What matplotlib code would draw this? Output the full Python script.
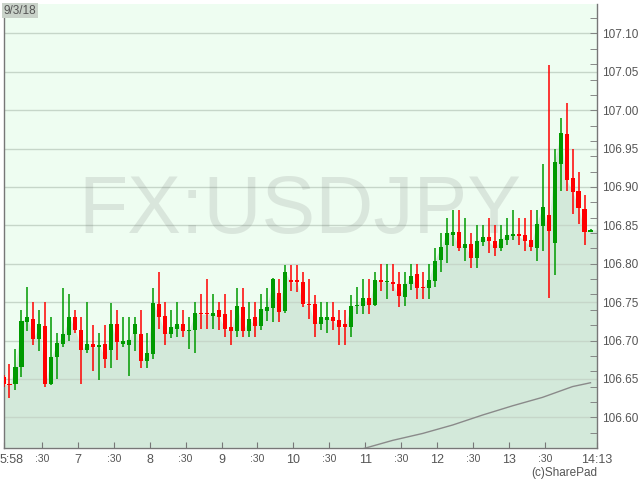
import matplotlib.pyplot as plt
import matplotlib.transforms as mtransforms
import numpy as np

plt.rcParams['font.family'] = ['Liberation Sans', 'DejaVu Sans']

# USDJPY 5 minute candles on 9/3/18, first candle at 5:58, last bar at 14:13
start_min = 5 * 60 + 58
end_min = 14 * 60 + 13
bar_minutes = 5

opens = [106.652, 106.643, 106.643, 106.665, 106.724, 106.728, 106.702, 106.719, 106.643, 106.679,
         106.696, 106.707, 106.730, 106.714, 106.688, 106.696, 106.691, 106.696, 106.688, 106.721,
         106.696, 106.694, 106.709, 106.709, 106.673, 106.683, 106.748, 106.732, 106.708, 106.715,
         106.722, 106.713, 106.714, 106.736, 106.735, 106.732, 106.740, 106.734, 106.718, 106.712,
         106.744, 106.713, 106.730, 106.719, 106.739, 106.743, 106.762, 106.739, 106.779, 106.779,
         106.776, 106.748, 106.747, 106.721, 106.727, 106.731, 106.727, 106.721, 106.717, 106.745,
         106.745, 106.756, 106.746, 106.779, 106.776, 106.776, 106.774, 106.757, 106.773, 106.786,
         106.769, 106.769, 106.778, 106.805, 106.824, 106.838, 106.842, 106.821, 106.826, 106.808,
         106.828, 106.835, 106.829, 106.821, 106.831, 106.836, 106.839, 106.838, 106.831, 106.821,
         106.849, 106.864, 106.827, 106.930, 106.969, 106.912, 106.895, 106.871, 106.842]
highs = [106.655, 106.669, 106.689, 106.740, 106.770, 106.750, 106.740, 106.750, 106.730, 106.710,
         106.769, 106.760, 106.740, 106.730, 106.750, 106.720, 106.710, 106.720, 106.749, 106.740,
         106.730, 106.730, 106.730, 106.740, 106.710, 106.769, 106.789, 106.750, 106.740, 106.750,
         106.740, 106.730, 106.750, 106.760, 106.780, 106.760, 106.750, 106.760, 106.740, 106.769,
         106.769, 106.750, 106.750, 106.760, 106.769, 106.781, 106.780, 106.799, 106.799, 106.799,
         106.789, 106.780, 106.759, 106.750, 106.750, 106.750, 106.740, 106.740, 106.759, 106.770,
         106.780, 106.780, 106.789, 106.800, 106.800, 106.800, 106.789, 106.789, 106.800, 106.800,
         106.789, 106.800, 106.820, 106.840, 106.859, 106.870, 106.870, 106.859, 106.840, 106.851,
         106.851, 106.859, 106.851, 106.851, 106.859, 106.870, 106.859, 106.859, 106.870, 106.870,
         106.930, 107.059, 106.949, 106.990, 107.010, 106.949, 106.920, 106.890, 106.845]
lows = [106.640, 106.625, 106.635, 106.653, 106.712, 106.694, 106.687, 106.640, 106.642, 106.650,
        106.691, 106.700, 106.710, 106.643, 106.684, 106.660, 106.649, 106.664, 106.664, 106.675,
        106.692, 106.654, 106.686, 106.664, 106.664, 106.676, 106.715, 106.694, 106.703, 106.705,
        106.705, 106.689, 106.684, 106.715, 106.715, 106.715, 106.714, 106.705, 106.694, 106.705,
        106.705, 106.705, 106.705, 106.714, 106.725, 106.724, 106.724, 106.736, 106.764, 106.763,
        106.744, 106.728, 106.705, 106.714, 106.710, 106.714, 106.694, 106.694, 106.705, 106.735,
        106.735, 106.735, 106.745, 106.765, 106.754, 106.765, 106.744, 106.745, 106.766, 106.754,
        106.754, 106.754, 106.770, 106.789, 106.801, 106.823, 106.816, 106.804, 106.794, 106.794,
        106.823, 106.814, 106.810, 106.816, 106.825, 106.831, 106.825, 106.816, 106.816, 106.804,
        106.816, 106.755, 106.785, 106.895, 106.895, 106.865, 106.852, 106.825, 106.842]
closes = [106.643, 106.642, 106.666, 106.726, 106.730, 106.702, 106.721, 106.643, 106.679, 106.697,
          106.708, 106.730, 106.714, 106.688, 106.696, 106.691, 106.694, 106.676, 106.721, 106.698,
          106.700, 106.701, 106.721, 106.673, 106.684, 106.749, 106.731, 106.708, 106.717, 106.722,
          106.713, 106.714, 106.736, 106.734, 106.734, 106.736, 106.730, 106.715, 106.713, 106.745,
          106.713, 106.728, 106.719, 106.741, 106.744, 106.780, 106.737, 106.789, 106.776, 106.776,
          106.747, 106.746, 106.721, 106.730, 106.731, 106.726, 106.718, 106.717, 106.745, 106.746,
          106.756, 106.746, 106.779, 106.776, 106.777, 106.773, 106.758, 106.773, 106.784, 106.769,
          106.768, 106.779, 106.804, 106.822, 106.840, 106.842, 106.821, 106.826, 106.808, 106.829,
          106.835, 106.829, 106.821, 106.832, 106.838, 106.839, 106.836, 106.830, 106.822, 106.852,
          106.874, 106.843, 106.932, 106.970, 106.909, 106.894, 106.873, 106.842, 106.844]

# long moving average (grey line), read every 5 bars from 11:00 on
ma_bar = [60, 65, 70, 75, 80, 85, 90, 95, 98]
ma_val = [106.559, 106.570, 106.579, 106.590, 106.603, 106.615, 106.626, 106.640, 106.645]

xtick_pos = [358, 390, 420, 450, 480, 510, 540, 570, 600, 630, 660, 690, 720, 750, 780, 810, 853]
xtick_lab = ['5:58', ':30', '7', ':30', '8', ':30', '9', ':30', '10', ':30', '11', ':30',
             '12', ':30', '13', ':30', '14:13']

t = start_min + bar_minutes * np.arange(len(opens))
o = np.array(opens)
h = np.array(highs)
l = np.array(lows)
c = np.array(closes)
up = c > o
col = np.where(up, '#009a00', '#ff0000')

fig = plt.figure(figsize=(6.4, 4.8), dpi=100)
ax = fig.add_axes([3.5 / 640, 32 / 480, 593 / 640, 444.5 / 480])
ax.set_facecolor('#eefdf1')
ymin, ymax = 106.561, 107.139
ax.set_xlim(start_min, end_min)
ax.set_ylim(ymin, ymax)

# area under the close price
xa = np.append(t, end_min)
ya = np.append(c, c[-1])
ax.fill_between(xa, ya, ymin, color='#d3e9da', lw=0, zorder=1)

ax.text(0.5, 0.53, 'FX:USDJPY', transform=ax.transAxes, ha='center', va='center',
        fontsize=58, color='#666666', alpha=0.15, zorder=2)

for v in np.arange(106.60, 107.11, 0.05):
    ax.axhline(v, color='#c6d6c9', lw=1, zorder=1.5)

ax.plot(t[ma_bar], ma_val, color='#8a8a8a', lw=1, zorder=3)

ax.vlines(t, l, h, colors=col, lw=1.1, zorder=4)
body = np.maximum(np.abs(c - o), 0.0013)
ax.bar(t, body, bottom=np.minimum(o, c), width=3.4, color=col, lw=0, zorder=5)

# axes styling
for s in ['left', 'bottom', 'right']:
    ax.spines[s].set_color('#777777')
    ax.spines[s].set_linewidth(1)
ax.spines['top'].set_visible(False)

ax.yaxis.tick_right()
ax.set_yticks(np.round(np.arange(106.60, 107.11, 0.05), 2))
ax.set_yticklabels(['%.2f' % v for v in np.arange(106.60, 107.11, 0.05)])
ax.set_yticks(np.round(np.arange(106.56, 107.13, 0.02), 2), minor=True)
ax.yaxis.remove_overlapping_locs = False
ax.tick_params(axis='y', which='major', length=0, pad=4, labelsize=8.5, labelcolor='#555555')
ax.tick_params(axis='y', which='minor', length=5, direction='in', color='#777777')

ax.set_xticks(xtick_pos)
ax.set_xticklabels(xtick_lab)
ax.tick_params(axis='x', length=4, direction='in', color='#777777', pad=4, labelcolor='#555555')
for lab in ax.get_xticklabels():
    lab.set_fontsize(7.5 if lab.get_text() == ':30' else 9)
# first label sits flush with the left edge of the picture
first = ax.get_xticklabels()[0]
first.set_horizontalalignment('left')
first.set_transform(first.get_transform() +
                    mtransforms.ScaledTranslation(-3.5 / 100, 0, fig.dpi_scale_trans))

fig.text(4 / 640, 1 - 10.5 / 480, '9/3/18', fontsize=8.5, color='#555555', va='center',
         bbox=dict(facecolor='#c9d2c9', edgecolor='none', pad=1.2))
fig.text(597 / 640, 1 - 473 / 480, '(c)SharePad', fontsize=8.5, color='#555555',
         ha='right', va='center')

fig.savefig('out.png', dpi=100)
